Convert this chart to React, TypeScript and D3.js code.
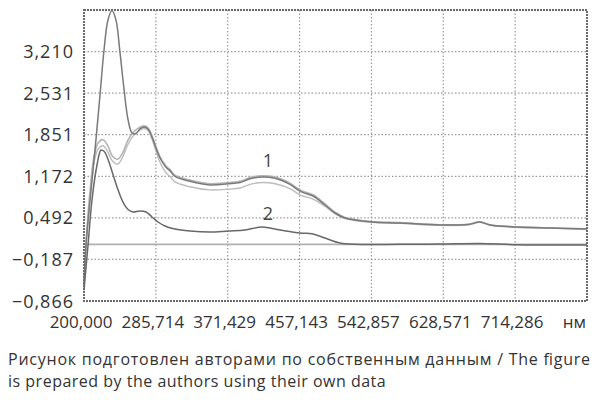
import React from "react";
import * as d3 from "d3";

// ---- data (wavelength nm, absorbance) ----
const xTicks = [200, 285.714, 371.429, 457.143, 542.857, 628.571, 714.286, 800];
const yTicks = [-0.866, -0.187, 0.492, 1.172, 1.851, 2.531, 3.21, 3.889];
const xTickLabels = ["200,000", "285,714", "371,429", "457,143", "542,857", "628,571", "714,286"];
const yTickLabels = ["−0,866", "−0,187", "0,492", "1,172", "1,851", "2,531", "3,210"];

const wlA = [200, 202.4, 207.2, 213.1, 219.1, 223.9, 228.6, 233.4, 238.2, 242.9, 247.7, 252.5, 257.3, 262.0, 266.8, 271.6, 276.3, 281.1, 285.9, 290.7, 297.8, 302.6, 308.5, 326.4, 350.3, 371.8, 386.1, 398.0, 412.3, 427.8, 445.7, 458.8, 473.2, 487.5, 499.4, 511.3, 543.5, 576.9, 624.6, 658.0, 672.4, 684.3, 715.3, 755.9, 800];
const absA = [-0.6, 0.05, 0.78, 1.6, 2.5, 3.235, 3.726, 3.88, 3.72, 3.2, 2.6, 2.1, 1.88, 1.87, 1.945, 1.977, 1.945, 1.814, 1.634, 1.471, 1.32, 1.26, 1.17, 1.09, 1.03, 1.05, 1.07, 1.13, 1.16, 1.14, 1.04, 0.92, 0.85, 0.703, 0.572, 0.49, 0.425, 0.409, 0.376, 0.384, 0.425, 0.376, 0.343, 0.327, 0.31];

const wlB = [200, 203, 207, 212, 217, 222.7, 228, 234, 240, 246, 252, 258, 264, 271.6, 276.3, 281.1, 285.9, 290.7, 297.8, 302.6, 308.5, 326.4, 350.3, 371.8, 386.1, 398.0, 412.3, 427.8, 445.7, 458.8, 473.2, 487.5, 499.4, 511.3, 543.5, 576.9, 624.6, 658.0, 672.4, 684.3, 715.3, 755.9, 800];
const absB = [-0.55, 0.2, 0.9, 1.5, 1.72, 1.77, 1.68, 1.5, 1.45, 1.55, 1.75, 1.88, 1.95, 1.995, 1.965, 1.834, 1.654, 1.49, 1.34, 1.28, 1.19, 1.11, 1.05, 1.07, 1.09, 1.15, 1.18, 1.16, 1.06, 0.94, 0.87, 0.72, 0.585, 0.5, 0.432, 0.414, 0.38, 0.388, 0.428, 0.38, 0.346, 0.33, 0.313];

const wlC = [200, 203, 207, 212, 217, 222.7, 228, 234, 240, 246, 252, 258, 264, 271.6, 276.3, 281.1, 285.9, 290.7, 297.8, 302.6, 308.5, 326.4, 350.3, 371.8, 386.1, 398.0, 412.3, 427.8, 445.7, 458.8, 473.2, 487.5, 499.4, 511.3, 543.5, 576.9, 624.6, 658.0, 672.4, 684.3, 715.3, 755.9, 800];
const absC = [-0.6, 0.15, 0.8, 1.4, 1.62, 1.67, 1.58, 1.42, 1.37, 1.48, 1.68, 1.82, 1.9, 1.95, 1.92, 1.78, 1.58, 1.4, 1.23, 1.17, 1.08, 1.0, 0.95, 0.96, 0.98, 1.04, 1.07, 1.05, 0.97, 0.86, 0.8, 0.68, 0.56, 0.48, 0.418, 0.402, 0.37, 0.378, 0.42, 0.372, 0.34, 0.324, 0.307];

const wl2 = [200, 204.8, 209.5, 215.5, 220.3, 223.9, 228.6, 234.6, 240.6, 246.5, 252.5, 258.4, 266.8, 274.0, 281.1, 288.3, 296.6, 308.5, 326.4, 350.3, 371.8, 392.0, 412.3, 433.8, 457.6, 473.2, 487.5, 505.4, 523.3, 576.9, 624.6, 672.4, 715.3, 800];
const abs2 = [-0.69, 0.05, 0.78, 1.356, 1.601, 1.58, 1.45, 1.2, 0.95, 0.75, 0.63, 0.588, 0.604, 0.588, 0.507, 0.425, 0.36, 0.31, 0.278, 0.261, 0.278, 0.294, 0.343, 0.294, 0.245, 0.229, 0.163, 0.082, 0.06, 0.06, 0.065, 0.075, 0.055, 0.05];

const wlBase = [200, 800];
const absBase = [0.06, 0.06];

const W = 600;
const H = 402;
const M = { left: 84, right: 587, top: 10, bottom: 301 };
const FONT = "'Open Sans', 'DejaVu Sans', sans-serif";

export default function App() {
  const x = d3.scaleLinear().domain([200, 800]).range([M.left, M.right]);
  const y = d3.scaleLinear().domain([-0.866, 3.889]).range([M.bottom, M.top]);

  const line = (xs: number[], ys: number[]) =>
    d3
      .line<number>()
      .x((_, i) => x(xs[i]))
      .y((_, i) => y(ys[i]))
      .curve(d3.curveCatmullRom.alpha(0.5))(ys) || "";

  const series = [
    { xs: wlBase, ys: absBase, color: "#b0b0b0", w: 1.6 },
    { xs: wlC, ys: absC, color: "#bcbcbc", w: 1.4 },
    { xs: wlB, ys: absB, color: "#b4b4b4", w: 1.6 },
    { xs: wlA, ys: absA, color: "#7a7a7a", w: 1.5 },
    { xs: wl2, ys: abs2, color: "#686868", w: 1.5 },
  ];

  return (
    <svg width={W} height={H} style={{ position: "absolute", left: 0, top: 0, background: "#fff" }}>
      <rect x={0} y={0} width={W} height={H} fill="#fff" />
      {/* grid */}
      {xTicks.slice(1, -1).map((t) => (
        <line key={"gx" + t} x1={x(t)} x2={x(t)} y1={M.top} y2={M.bottom} stroke="#9a9a9a" strokeWidth={1.2} strokeDasharray="1.5,2" />
      ))}
      {yTicks.slice(1, -1).map((t) => (
        <line key={"gy" + t} x1={M.left} x2={M.right} y1={y(t)} y2={y(t)} stroke="#9a9a9a" strokeWidth={1.2} strokeDasharray="1.5,2" />
      ))}
      {/* curves */}
      {series.map((s, i) => (
        <path key={i} d={line(s.xs, s.ys)} fill="none" stroke={s.color} strokeWidth={s.w} strokeLinejoin="round" />
      ))}
      {/* frame */}
      <rect x={M.left} y={M.top} width={M.right - M.left} height={M.bottom - M.top} fill="none" stroke="#6a6a6a" strokeWidth={2} strokeDasharray="2,1" />
      {/* y labels */}
      {yTickLabels.map((lab, i) => (
        <text key={"yl" + i} x={74} y={y(yTicks[i]) + 6.5} textAnchor="end" fontFamily={FONT} fontSize={18} letterSpacing={1} fill="#333">
          {lab}
        </text>
      ))}
      {/* x labels */}
      {xTickLabels.map((lab, i) => (
        <text key={"xl" + i} x={x(xTicks[i]) - 3} y={328} textAnchor="middle" fontFamily={FONT} fontSize={17} fill="#333">
          {lab}
        </text>
      ))}
      <text x={586} y={328} textAnchor="end" fontFamily={FONT} fontSize={17} fill="#333">нм</text>
      {/* curve labels */}
      <text x={268} y={167} textAnchor="middle" fontFamily={FONT} fontSize={18} fill="#444">1</text>
      <text x={268} y={220} textAnchor="middle" fontFamily={FONT} fontSize={18} fill="#444">2</text>
      {/* caption */}
      <text x={8} y={365} fontFamily={FONT} fontSize={16} textLength={582} lengthAdjust="spacing" fill="#333">
        Рисунок подготовлен авторами по собственным данным / The figure
      </text>
      <text x={8} y={387} fontFamily={FONT} fontSize={16} letterSpacing={0.5} fill="#333">
        is prepared by the authors using their own data
      </text>
    </svg>
  );
}
